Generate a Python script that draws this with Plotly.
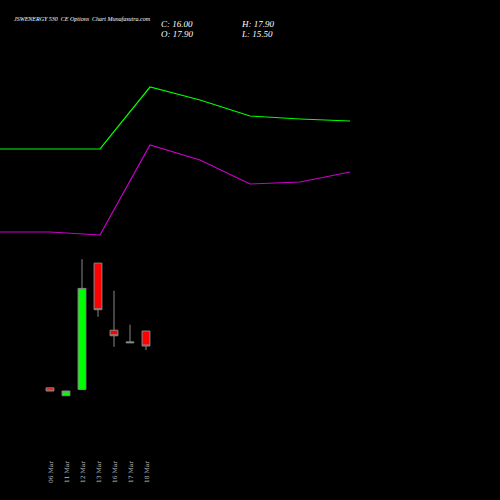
import plotly.graph_objects as go

dates = ["06 Mar", "11 Mar", "12 Mar", "13 Mar", "16 Mar", "17 Mar", "18 Mar"]
opens = [10.7, 9.7, 10.5, 26.5, 18.0, 16.4, 17.9]
highs = [10.7, 10.3, 27.0, 26.5, 23.0, 18.7, 17.9]
lows = [10.3, 9.7, 10.5, 19.7, 15.9, 16.4, 15.5]
closes = [10.3, 10.3, 23.3, 20.6, 17.3, 16.5, 16.0]

line_x = [0, 50, 100, 150, 200, 250, 300, 350]
green_line = [351, 351, 351, 413, 400, 384, 381, 379]
magenta_line = [268, 268, 265, 355, 340, 316, 318, 328]

fig = go.Figure()
fig.add_trace(go.Candlestick(
    x=list(range(len(dates))), open=opens, high=highs, low=lows, close=closes,
    increasing=dict(line=dict(color="#888888", width=1), fillcolor="#00ff00"),
    decreasing=dict(line=dict(color="#888888", width=1), fillcolor="#ff0000"),
    whiskerwidth=0, showlegend=False,
))
fig.add_trace(go.Scatter(x=line_x, y=green_line, mode="lines", line=dict(color="#00ff00", width=1.2),
                         xaxis="x2", yaxis="y2", showlegend=False))
fig.add_trace(go.Scatter(x=line_x, y=magenta_line, mode="lines", line=dict(color="#cc00cc", width=1.2),
                         xaxis="x2", yaxis="y2", showlegend=False))

for i, d in enumerate(dates):
    fig.add_annotation(x=i, y=0.03, yref="paper", text=d, textangle=-90, showarrow=False,
                       yanchor="bottom", font=dict(color="#bbbbbb", size=6, family="DejaVu Serif"))

fnt = dict(color="white", family="Liberation Serif", size=9)
fig.add_annotation(x=12 / 500, y=1 - 14 / 500, xref="paper", yref="paper", xanchor="left",
                   text="<i>JSWENERGY 530  CE Options  Chart Munafasutra.com</i>", showarrow=False,
                   font=dict(color="white", family="Liberation Serif", size=6))
for txt, px_, py_ in [("C: 16.00", 160, 24), ("H: 17.90", 240, 24), ("O: 17.90", 160, 34), ("L: 15.50", 240, 34)]:
    fig.add_annotation(x=px_ / 500, y=1 - py_ / 500, xref="paper", yref="paper", xanchor="left",
                       yanchor="middle", text="<i>" + txt + "</i>", showarrow=False, font=fnt,
                       borderpad=0)

fig.update_layout(
    width=500, height=500, margin=dict(l=0, r=0, t=0, b=0),
    paper_bgcolor="black", plot_bgcolor="black",
    xaxis=dict(range=[-3.125, 28.125], visible=False, rangeslider=dict(visible=False)),
    yaxis=dict(range=[-3.51, 59.84], visible=False),
    xaxis2=dict(range=[0, 500], overlaying="x", visible=False),
    yaxis2=dict(range=[0, 500], overlaying="y", visible=False),
)
fig.write_html("out.html", config={"displayModeBar": False},
               post_script="document.body.style.margin='0';")
